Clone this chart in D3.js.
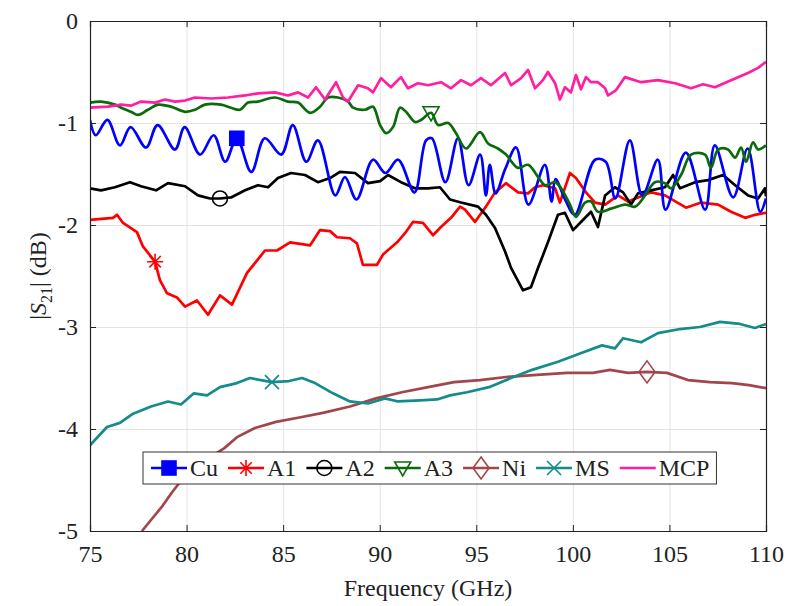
<!DOCTYPE html>
<html>
<head>
<meta charset="utf-8">
<script src="https://cdn.jsdelivr.net/npm/d3@7"></script>
<style>
  body { margin: 0; background: #fff; }
  svg { display: block; font-family: "Liberation Serif", "Times New Roman", serif; }
</style>
</head>
<body>
<div id="chart"></div>
<script>
// data (frequency in GHz, |S21| in dB)
const cuF = [75.0,75.3,75.9,76.55,77.1,77.9,78.5,79.4,79.9,80.7,81.4,82.0,82.6,83.35,84.05,84.9,85.5,86.2,86.8,87.7,88.2,88.8,89.65,90.3,90.95,91.8,92.4,92.7,93.4,94.05,94.6,95.2,95.5,95.7,96.0,96.5,97.06,97.7,98.55,98.9,99.1,99.6,100.1,101.15,101.7,102.2,102.95,103.6,104.4,104.8,105.85,106.85,107.35,108.3,109.05,109.7,110.0];
const cuV = [-0.97,-1.12,-0.97,-1.22,-1.04,-1.24,-1.02,-1.26,-1.04,-1.31,-1.12,-1.38,-1.15,-1.48,-1.15,-1.31,-1.02,-1.38,-1.17,-1.71,-1.53,-1.75,-1.36,-1.49,-1.36,-1.68,-1.17,-1.15,-1.58,-1.15,-1.61,-1.31,-1.71,-1.41,-1.69,-1.45,-1.24,-1.80,-1.41,-1.77,-1.55,-1.75,-1.90,-1.36,-1.38,-1.74,-1.17,-1.71,-1.36,-1.85,-1.29,-1.85,-1.22,-1.73,-1.25,-1.87,-1.74];

const a1F = [75.0,76.19,76.4,76.71,77.43,77.74,78.37,78.62,78.99,79.5,79.92,80.54,81.11,81.73,82.35,83.13,84.06,84.68,85.36,86.39,86.91,87.43,87.79,88.46,88.82,89.13,89.86,90.17,90.9,91.31,91.72,92.24,92.76,93.17,93.69,94.16,94.42,94.93,95.5,95.97,96.54,97.16,97.68,98.04,98.45,99.08,99.33,99.85,100.16,100.68,101.15,101.67,102.34,102.86,104.05,104.77,105.86,106.64,107.52,108.19,108.92,109.43,110.0];
const a1V = [-1.95,-1.93,-1.90,-1.98,-2.07,-2.21,-2.36,-2.54,-2.67,-2.71,-2.80,-2.74,-2.88,-2.69,-2.78,-2.47,-2.25,-2.25,-2.17,-2.20,-2.05,-2.06,-2.12,-2.13,-2.18,-2.39,-2.39,-2.29,-2.17,-2.08,-1.97,-1.98,-2.10,-2.02,-1.93,-1.82,-1.85,-1.97,-1.82,-1.68,-1.59,-1.68,-1.69,-1.63,-1.61,-1.64,-1.78,-1.49,-1.54,-1.68,-1.78,-1.80,-1.71,-1.77,-1.68,-1.71,-1.83,-1.78,-1.80,-1.87,-1.93,-1.90,-1.88];

const a2F = [75.0,75.57,76.29,77.07,77.64,78.42,79.04,79.92,80.59,81.21,81.73,82.3,83.03,83.7,84.22,84.73,85.41,86.13,86.8,87.43,87.94,88.72,89.39,90.02,90.43,91.1,91.83,92.5,93.12,93.64,94.21,95.09,95.5,95.97,96.49,96.8,97.42,97.83,98.2,98.71,99.23,99.59,100.01,100.42,100.94,101.3,101.67,102.18,102.6,103.01,103.37,104.05,104.77,105.19,105.55,106.33,107.0,107.78,108.4,109.07,109.59,109.95,110.0];
const a2V = [-1.64,-1.66,-1.63,-1.58,-1.62,-1.66,-1.59,-1.62,-1.71,-1.74,-1.74,-1.73,-1.66,-1.61,-1.63,-1.54,-1.49,-1.51,-1.58,-1.54,-1.48,-1.49,-1.59,-1.57,-1.51,-1.58,-1.64,-1.64,-1.63,-1.75,-1.78,-1.82,-1.90,-2.03,-2.26,-2.42,-2.64,-2.61,-2.42,-2.17,-1.90,-1.88,-2.05,-1.97,-1.87,-2.02,-1.71,-1.63,-1.68,-1.80,-1.69,-1.66,-1.63,-1.51,-1.64,-1.58,-1.56,-1.51,-1.61,-1.71,-1.74,-1.64,-1.72];

const a3F = [75.0,75.57,76.29,76.61,77.12,77.49,78.0,78.52,79.19,79.92,80.44,80.95,81.78,82.3,82.77,83.18,83.7,84.58,85.25,85.77,86.39,86.91,87.32,87.84,88.36,88.62,89.24,89.65,90.02,90.33,90.69,91.05,91.36,91.83,92.14,92.66,93.02,93.54,93.95,94.47,95.19,95.61,96.12,96.54,97.16,97.68,98.2,98.56,99.08,99.39,99.85,100.16,100.63,100.94,101.3,101.98,102.7,103.22,103.74,104.25,104.77,105.08,105.6,106.12,106.84,107.15,107.52,108.03,108.4,108.71,108.97,109.33,109.59,110.0];
const a3V = [-0.80,-0.79,-0.82,-0.85,-0.89,-0.92,-0.87,-0.82,-0.84,-0.89,-0.87,-0.82,-0.82,-0.85,-0.87,-0.80,-0.79,-0.75,-0.79,-0.80,-0.90,-0.84,-0.75,-0.75,-0.79,-0.85,-0.87,-0.84,-1.02,-1.10,-1.04,-0.85,-0.89,-0.99,-0.97,-0.90,-1.02,-1.00,-1.10,-1.25,-1.09,-1.20,-1.25,-1.31,-1.44,-1.41,-1.53,-1.61,-1.58,-1.64,-1.80,-1.92,-1.78,-1.77,-1.87,-1.84,-1.80,-1.82,-1.71,-1.58,-1.59,-1.64,-1.51,-1.31,-1.31,-1.44,-1.26,-1.26,-1.34,-1.24,-1.38,-1.19,-1.26,-1.22];

const niF = [77.69,78.21,78.73,79.25,79.66,80.7,81.94,82.61,83.54,84.63,85.77,87.12,88.46,89.81,91.15,92.5,93.85,95.19,96.54,98.14,99.7,101.04,101.92,102.86,103.84,104.87,105.96,107.1,108.24,109.12,110.0];
const niV = [-5.00,-4.88,-4.76,-4.62,-4.52,-4.34,-4.19,-4.08,-3.99,-3.93,-3.89,-3.84,-3.78,-3.70,-3.64,-3.59,-3.54,-3.52,-3.49,-3.47,-3.45,-3.45,-3.42,-3.45,-3.44,-3.45,-3.52,-3.54,-3.55,-3.57,-3.60];

const msF = [75.0,75.88,76.55,77.23,78.16,79.04,79.71,80.38,81.06,81.73,82.61,83.28,84.42,85.3,85.98,86.65,87.58,88.46,89.39,90.27,90.95,92.09,92.97,93.64,94.52,95.66,96.8,97.89,99.23,100.37,101.51,102.18,102.6,103.53,104.41,105.55,106.58,107.62,108.65,109.43,110.0];
const msV = [-4.16,-3.98,-3.94,-3.85,-3.78,-3.73,-3.76,-3.65,-3.67,-3.59,-3.55,-3.50,-3.54,-3.53,-3.50,-3.55,-3.65,-3.73,-3.75,-3.70,-3.73,-3.72,-3.71,-3.67,-3.64,-3.59,-3.50,-3.42,-3.34,-3.26,-3.18,-3.21,-3.11,-3.15,-3.06,-3.02,-3.00,-2.95,-2.97,-3.01,-2.97];

const mcpF = [75.0,75.93,76.61,77.12,77.64,78.37,78.88,79.4,79.92,80.44,81.27,82.15,83.03,83.7,84.58,85.25,85.77,86.29,86.7,87.17,87.74,88.1,88.36,88.88,89.39,89.65,90.07,90.58,91.1,91.46,91.98,92.5,93.17,93.69,94.21,94.73,95.24,95.76,96.49,96.8,97.32,97.68,98.04,98.45,98.71,99.08,99.33,99.59,99.9,100.16,100.42,100.68,100.94,101.3,101.67,101.82,102.23,102.7,103.53,104.41,105.29,106.12,106.74,107.36,108.19,109.07,109.59,110.0];
const mcpV = [-0.85,-0.84,-0.82,-0.83,-0.79,-0.80,-0.77,-0.79,-0.78,-0.75,-0.76,-0.75,-0.73,-0.71,-0.70,-0.73,-0.70,-0.75,-0.65,-0.77,-0.60,-0.75,-0.79,-0.63,-0.66,-0.70,-0.56,-0.65,-0.55,-0.66,-0.61,-0.63,-0.60,-0.66,-0.58,-0.63,-0.56,-0.63,-0.51,-0.63,-0.56,-0.48,-0.66,-0.58,-0.50,-0.61,-0.77,-0.65,-0.70,-0.53,-0.67,-0.55,-0.60,-0.60,-0.66,-0.73,-0.68,-0.55,-0.60,-0.58,-0.61,-0.66,-0.62,-0.65,-0.58,-0.51,-0.46,-0.40];

const seriesNames = ['Cu', 'A1', 'A2', 'A3', 'Ni', 'MS', 'MCP'];
const markerFreq = [82.6, 78.37, 81.73, 92.66, 103.84, 84.42, null];
const xTicks = [75, 80, 85, 90, 95, 100, 105, 110];
const yTicks = [-5, -4, -3, -2, -1, 0];

const allF = [cuF, a1F, a2F, a3F, niF, msF, mcpF];
const allV = [cuV, a1V, a2V, a3V, niV, msV, mcpV];
const colors = ['#0000ff', '#ff0000', '#000000', '#0b6b0b', '#a3454a', '#148c8c', '#ff1fa0'];
const markers = ['square', 'asterisk', 'circle', 'triangleDown', 'diamond', 'cross', null];
// the oscillating traces are smooth, the rest look like raw noisy sweeps
const smooth = [true, false, false, true, false, false, false];

const width = 788, height = 606;
const plotL = 90, plotR = 766, plotT = 21, plotB = 531;

const svg = d3.select('#chart').append('svg')
    .attr('width', width)
    .attr('height', height);

const x = d3.scaleLinear().domain([75, 110]).range([plotL, plotR]);
const y = d3.scaleLinear().domain([-5, 0]).range([plotB, plotT]);

svg.append('defs').append('clipPath').attr('id', 'plotClip')
    .append('rect').attr('x', plotL).attr('y', plotT)
    .attr('width', plotR - plotL).attr('height', plotB - plotT);

// grid
const grid = svg.append('g').attr('stroke', '#e3e3e3').attr('stroke-width', 1);
grid.selectAll('.vg').data(xTicks.slice(1, -1)).enter().append('line')
    .attr('x1', d => x(d) + 0.5).attr('x2', d => x(d) + 0.5)
    .attr('y1', plotT).attr('y2', plotB);
grid.selectAll('.hg').data(yTicks.slice(1, -1)).enter().append('line')
    .attr('y1', d => y(d) + 0.5).attr('y2', d => y(d) + 0.5)
    .attr('x1', plotL).attr('x2', plotR);

// series
const lineSmooth = d3.line()
    .x(d => x(d[0]))
    .y(d => y(d[1]))
    .curve(d3.curveCatmullRom.alpha(0.5));
const lineRaw = d3.line()
    .x(d => x(d[0]))
    .y(d => y(d[1]));

const plot = svg.append('g').attr('clip-path', 'url(#plotClip)');
const drawOrder = [4, 5, 1, 2, 0, 3, 6];
drawOrder.forEach(i => {
    const pts = allF[i].map((f, k) => [f, allV[i][k]]);
    plot.append('path')
        .datum(pts)
        .attr('fill', 'none')
        .attr('stroke', colors[i])
        .attr('stroke-width', 2.7)
        .attr('stroke-linejoin', 'round')
        .attr('d', smooth[i] ? lineSmooth : lineRaw);
});

function drawMarker(g, type, cx, cy, color) {
    const m = g.append('g').attr('transform', `translate(${cx},${cy})`)
        .attr('stroke', color).attr('stroke-width', 1.6).attr('fill', 'none');
    if (type === 'square') {
        m.append('rect').attr('x', -7).attr('y', -7).attr('width', 14).attr('height', 14)
            .attr('fill', color);
    } else if (type === 'asterisk') {
        m.append('path').attr('d', 'M0,-8V8M-8,0H8M-5.7,-5.7L5.7,5.7M-5.7,5.7L5.7,-5.7');
    } else if (type === 'circle') {
        m.append('circle').attr('r', 7.5);
    } else if (type === 'triangleDown') {
        m.append('path').attr('d', 'M-8,-6L8,-6L0,8Z');
    } else if (type === 'diamond') {
        m.append('path').attr('d', 'M0,-11L8,0L0,11L-8,0Z');
    } else if (type === 'cross') {
        m.append('path').attr('d', 'M-7,-7L7,7M-7,7L7,-7');
    }
}

const markerLayer = svg.append('g');
markerFreq.forEach((mf, i) => {
    if (mf === null) return;
    const idx = d3.leastIndex(allF[i], f => Math.abs(f - mf));
    drawMarker(markerLayer, markers[i], x(allF[i][idx]), y(allV[i][idx]), colors[i]);
});

// axes
const axisColor = '#222';
const fontSize = 24;

const xAxis = svg.append('g').attr('transform', `translate(0,${plotB})`)
    .call(d3.axisBottom(x).tickValues(xTicks).tickSize(-6).tickPadding(14).tickFormat(d3.format('d')));
const yAxis = svg.append('g').attr('transform', `translate(${plotL},0)`)
    .call(d3.axisLeft(y).tickValues(yTicks).tickSize(-6).tickPadding(12).tickFormat(d => d === 0 ? '0' : '-' + Math.abs(d)));
const xTop = svg.append('g').attr('transform', `translate(0,${plotT})`)
    .call(d3.axisTop(x).tickValues(xTicks).tickSize(-6).tickFormat(''));
const yRight = svg.append('g').attr('transform', `translate(${plotR},0)`)
    .call(d3.axisRight(y).tickValues(yTicks).tickSize(-6).tickFormat(''));

[xAxis, yAxis, xTop, yRight].forEach(a => {
    a.select('.domain').attr('stroke', axisColor).attr('stroke-width', 1.2);
    a.selectAll('.tick line').attr('stroke', axisColor);
    a.selectAll('text').attr('font-size', fontSize)
        .attr('font-family', '"Liberation Serif", serif').attr('fill', '#222');
});

// axis labels
svg.append('text')
    .attr('x', (plotL + plotR) / 2)
    .attr('y', 596)
    .attr('text-anchor', 'middle')
    .attr('font-size', 24)
    .attr('fill', '#222')
    .text('Frequency (GHz)');

const yl = svg.append('text')
    .attr('transform', `translate(46,${(plotT + plotB) / 2}) rotate(-90)`)
    .attr('text-anchor', 'middle')
    .attr('font-size', 24)
    .attr('fill', '#222');
yl.append('tspan').text('|');
yl.append('tspan').attr('font-style', 'italic').text('S');
yl.append('tspan').attr('font-size', 16).attr('dy', 6).text('21');
yl.append('tspan').attr('dy', -6).text('| (dB)');

// legend
const legend = svg.append('g');
const legX = 143, legY = 452, legH = 32;
const legBox = legend.append('rect')
    .attr('x', legX).attr('y', legY).attr('height', legH)
    .attr('fill', '#fff').attr('stroke', '#333').attr('stroke-width', 1);

let cursor = legX + 8;
const legCy = legY + legH / 2;
seriesNames.forEach((name, i) => {
    legend.append('line')
        .attr('x1', cursor).attr('x2', cursor + 36)
        .attr('y1', legCy).attr('y2', legCy)
        .attr('stroke', colors[i]).attr('stroke-width', 2.7);
    if (markers[i]) drawMarker(legend, markers[i], cursor + 18, legCy, colors[i]);
    const t = legend.append('text')
        .attr('x', cursor + 39).attr('y', legCy + 8)
        .attr('font-size', 24).attr('fill', '#222')
        .text(name);
    cursor += 39 + t.node().getComputedTextLength() + 10;
});
legBox.attr('width', cursor - legX - 3);
</script>
</body>
</html>
